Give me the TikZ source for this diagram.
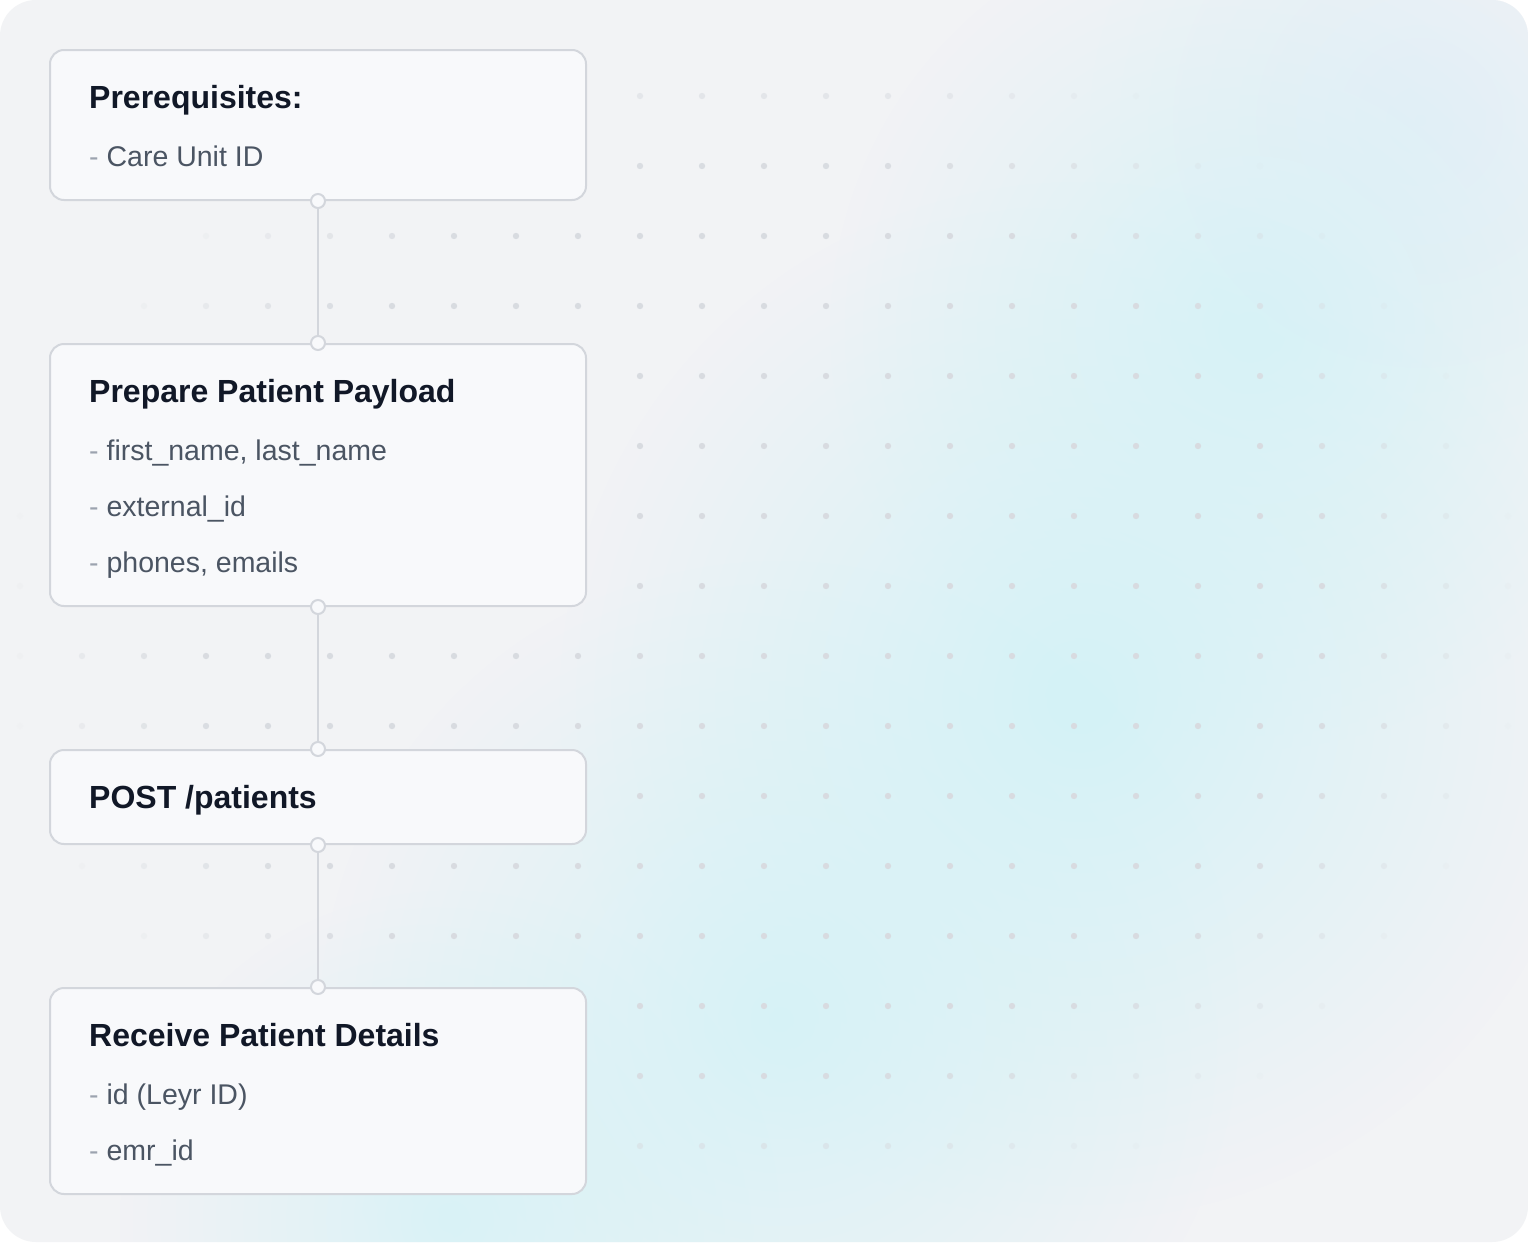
\documentclass[tikz,border=0pt]{standalone}
\usepackage{fontspec}
\setmainfont{Liberation Sans}
\usetikzlibrary{fadings}
\tikzfading[name=glowfade, inner color=transparent!0, outer color=transparent!100]
\definecolor{bgc}{HTML}{F2F3F5}
\definecolor{glowc}{HTML}{D4F2F7}
\definecolor{glowb}{HTML}{E4EEF7}
\definecolor{cardfill}{HTML}{F8F9FB}
\definecolor{cardline}{HTML}{D3D6DC}
\definecolor{titlec}{HTML}{111827}
\definecolor{bodyc}{HTML}{4B5563}
\definecolor{dashc}{HTML}{9CA3AF}
\definecolor{dotc}{HTML}{D8DBE0}
\newcommand{\dashmark}{{\color{dashc}-}\ }
\begin{document}
\begin{tikzpicture}[x=1pt,y=-1pt,
  card/.style={draw=cardline, line width=2pt, fill=cardfill, rounded corners=14pt,
    minimum width=536pt, anchor=north west, inner sep=0pt},
  ttl/.style={anchor=base west, inner sep=0pt, text=titlec,
    font=\fontsize{32}{38}\selectfont\bfseries},
  bdy/.style={anchor=base west, inner sep=0pt, text=bodyc,
    font=\fontsize{28.5}{34}\selectfont},
  conn/.style={draw=cardline, line width=2pt},
  port/.style={circle, draw=cardline, line width=2pt, fill=cardfill,
    minimum size=14pt, inner sep=0pt}]
\useasboundingbox (0,0) rectangle (1528,1242);
\fill[white] (0,0) rectangle (1528,1242);
\fill[bgc, rounded corners=36pt] (0,0) rectangle (1528,1242);
\begin{scope}
\clip[rounded corners=36pt] (0,0) rectangle (1528,1242);
\fill[glowb, path fading=glowfade, opacity=0.8] (1420,120) circle (330);
\fill[glowc, path fading=glowfade, opacity=0.85] (1250,330) circle (420);
\fill[glowc, path fading=glowfade] (1080,700) circle (520);
\fill[glowc, path fading=glowfade, opacity=0.9] (780,1020) circle (460);
\fill[glowc, path fading=glowfade, opacity=0.8] (450,1220) circle (330);
\foreach \i in {0,...,24}{
  \foreach \j in {1,...,16}{
    \pgfmathsetmacro\px{20+62*\i}
    \pgfmathsetmacro\py{26+70*\j}
    \pgfmathsetmacro\dd{sqrt(((\px-764)/1080)^2+((\py-621)/878)^2)}
    \pgfmathsetmacro\op{max(0,min(1,(0.71-\dd)/0.2))}
    \ifdim\op pt>0.02pt
      \fill[dotc, opacity=\op] (\px,\py) circle[radius=3.2pt];
    \fi
  }
}
\end{scope}
% cards
\node[card, minimum height=150pt] (c1) at (49,49) {};
\node[card, minimum height=262pt] (c2) at (49,343) {};
\node[card, minimum height=94pt] (c3) at (49,749) {};
\node[card, minimum height=206pt] (c4) at (49,987) {};
% connectors
\draw[conn] (c1.south) -- (c2.north);
\draw[conn] (c2.south) -- (c3.north);
\draw[conn] (c3.south) -- (c4.north);
\node[port] (p1s) at (c1.south) {};
\node[port] (p2n) at (c2.north) {};
\node[port] (p2s) at (c2.south) {};
\node[port] (p3n) at (c3.north) {};
\node[port] (p3s) at (c3.south) {};
\node[port] (p4n) at (c4.north) {};
% texts
\node[ttl] (t1) at (89,108) {Prerequisites:};
\node[bdy] (b11) at (89,166) {\dashmark Care Unit ID};
\node[ttl] (t2) at (89,402) {Prepare Patient Payload};
\node[bdy] (b21) at (89,460) {\dashmark first\_name, last\_name};
\node[bdy] (b22) at (89,516) {\dashmark external\_id};
\node[bdy] (b23) at (89,572) {\dashmark phones, emails};
\node[ttl] (t3) at (89,808) {POST /patients};
\node[ttl] (t4) at (89,1046) {Receive Patient Details};
\node[bdy] (b41) at (89,1104) {\dashmark id (Leyr ID)};
\node[bdy] (b42) at (89,1160) {\dashmark emr\_id};
\end{tikzpicture}
\end{document}
